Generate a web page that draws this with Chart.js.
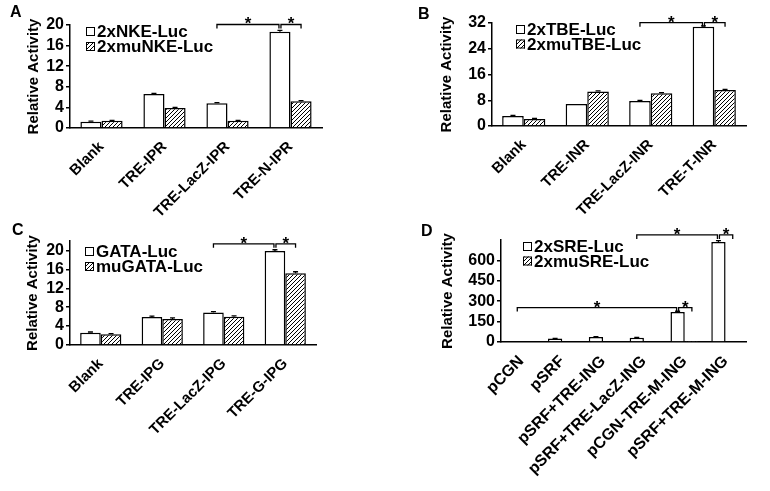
<!DOCTYPE html>
<html>
<head>
<meta charset="utf-8">
<script src="https://cdn.jsdelivr.net/npm/chart.js@4.4.1/dist/chart.umd.min.js"></script>
<style>
html, body { margin: 0; padding: 0; background: #fff; }
body { width: 770px; height: 491px; position: relative; overflow: hidden; }
canvas { position: absolute; }
</style>
</head>
<body>
<canvas id="panelA" width="385" height="220" style="left:0px;top:0px"></canvas>
<canvas id="panelB" width="385" height="220" style="left:385px;top:0px"></canvas>
<canvas id="panelC" width="385" height="271" style="left:0px;top:220px"></canvas>
<canvas id="panelD" width="385" height="271" style="left:385px;top:220px"></canvas>
<script>
Chart.defaults.color = '#000';
Chart.defaults.font.family = "'Liberation Sans', Arial, sans-serif";
Chart.defaults.font.weight = 'bold';

// panel A
const aLabels = ['Blank', 'TRE-IPR', 'TRE-LacZ-IPR', 'TRE-N-IPR'];
const aSeries = ['2xNKE-Luc', '2xmuNKE-Luc'];
const aWild = [1.2, 6.6, 4.8, 18.7];
const aMutant = [1.4, 3.9, 1.4, 5.2];
const aWildErr = [0.15, 0.12, 0.12, 0.25];
const aMutantErr = [0.08, 0.1, 0.06, 0.1];
const aTicks = [0, 4, 8, 12, 16, 20];

// panel B
const bLabels = ['Blank', 'TRE-INR', 'TRE-LacZ-INR', 'TRE-T-INR'];
const bSeries = ['2xTBE-Luc', '2xmuTBE-Luc'];
const bWild = [3.1, 6.8, 7.8, 30.8];
const bMutant = [2.2, 10.7, 10.2, 11.2];
const bWildErr = [0.2, 0, 0.15, 0.3];
const bMutantErr = [0.15, 0.2, 0.15, 0.15];
const bTicks = [0, 8, 16, 24, 32];

// panel C
const cLabels = ['Blank', 'TRE-IPG', 'TRE-LacZ-IPG', 'TRE-G-IPG'];
const cSeries = ['GATA-Luc', 'muGATA-Luc'];
const cWild = [2.6, 5.9, 6.9, 19.9];
const cMutant = [2.3, 5.5, 6.0, 15.2];
const cWildErr = [0.15, 0.2, 0.15, 0.25];
const cMutantErr = [0.1, 0.25, 0.15, 0.3];
const cTicks = [0, 4, 8, 12, 16, 20];

// panel D
const dLabels = ['pCGN', 'pSRF', 'pSRF+TRE-ING', 'pSRF+TRE-LacZ-ING', 'pCGN-TRE-M-ING', 'pSRF+TRE-M-ING'];
const dSeries = ['2xSRE-Luc', '2xmuSRE-Luc'];
const dWild = [0, 25, 37, 32, 220, 735];
const dMutant = [0, 0, 0, 0, 3, 4];
const dWildErr = [0, 2, 2, 2, 6, 10];
const dMutantErr = [0, 0, 0, 0, 0, 0];
const dTicks = [0, 150, 300, 450, 600];

function makeHatch() {
    const c = document.createElement('canvas');
    c.width = 4;
    c.height = 4;
    const g = c.getContext('2d');
    g.fillStyle = '#fff';
    g.fillRect(0, 0, 4, 4);
    g.strokeStyle = '#000';
    g.lineWidth = 1;
    g.beginPath();
    g.moveTo(0, 4); g.lineTo(4, 0);
    g.moveTo(-1, 1); g.lineTo(1, -1);
    g.moveTo(3, 5); g.lineTo(5, 3);
    g.stroke();
    return g.createPattern(c, 'repeat');
}
const hatch = makeHatch();

// error bars, significance brackets, legend and panel letter
const extrasPlugin = {
    id: 'extras',
    afterDatasetsDraw(chart, args, opts) {
        const ctx = chart.ctx;
        const yScale = chart.scales.y;
        ctx.save();
        ctx.strokeStyle = '#000';
        ctx.fillStyle = '#000';
        ctx.lineWidth = 1.3;

        opts.errors.forEach(function(errs, d) {
            const meta = chart.getDatasetMeta(d);
            const vals = chart.data.datasets[d].data;
            meta.data.forEach(function(bar, i) {
                if (!errs[i]) return;
                const top = yScale.getPixelForValue(vals[i] + errs[i]);
                ctx.beginPath();
                ctx.moveTo(bar.x, bar.y);
                ctx.lineTo(bar.x, top);
                ctx.moveTo(bar.x - 2.5, top);
                ctx.lineTo(bar.x + 2.5, top);
                ctx.stroke();
            });
        });

        ctx.font = "bold 17px 'Liberation Sans', Arial, sans-serif";
        ctx.textAlign = 'center';
        opts.brackets.forEach(function(b) {
            const x1 = chart.getDatasetMeta(b.from[1]).data[b.from[0]].x + (b.nudge ? b.nudge[0] : 0);
            const x2 = chart.getDatasetMeta(b.to[1]).data[b.to[0]].x + (b.nudge ? b.nudge[1] : 0);
            const y = yScale.getPixelForValue(b.level);
            ctx.beginPath();
            ctx.moveTo(x1, y + 4);
            ctx.lineTo(x1, y);
            ctx.lineTo(x2, y);
            ctx.lineTo(x2, y + 4);
            ctx.stroke();
            ctx.fillText('*', (x1 + x2) / 2, y + 5);
        });

        const lg = opts.legend;
        ctx.textAlign = 'left';
        ctx.textBaseline = 'alphabetic';
        ctx.font = "bold 17px 'Liberation Sans', Arial, sans-serif";
        chart.data.datasets.forEach(function(ds, i) {
            const cy = lg.y + i * lg.gap;
            ctx.fillStyle = ds.backgroundColor;
            ctx.fillRect(lg.x, cy - 4, 9, 9);
            ctx.lineWidth = 1;
            ctx.strokeRect(lg.x + 0.5, cy - 3.5, 8, 8);
            ctx.fillStyle = '#000';
            ctx.fillText(ds.label, lg.x + 11, cy + 6);
        });

        ctx.font = "bold 16px 'Liberation Sans', Arial, sans-serif";
        ctx.fillText(opts.letter.text, opts.letter.x, opts.letter.y);
        ctx.restore();
    }
};

function buildPanel(id, labels, series, wild, mutant, wildErr, mutantErr, ticks, yMax, box, extras) {
    return new Chart(document.getElementById(id), {
        type: 'bar',
        data: {
            labels: labels,
            datasets: [{
                label: series[0],
                data: wild,
                backgroundColor: '#fff',
                borderColor: '#000',
                borderWidth: 1.5,
                categoryPercentage: box.catPct,
                barPercentage: 1
            }, {
                label: series[1],
                data: mutant,
                backgroundColor: hatch,
                borderColor: '#000',
                borderWidth: 1.5,
                categoryPercentage: box.catPct,
                barPercentage: 1
            }]
        },
        options: {
            responsive: false,
            animation: false,
            layout: { padding: box.pad },
            plugins: {
                legend: { display: false },
                tooltip: { enabled: false },
                extras: {
                    errors: [wildErr, mutantErr],
                    brackets: extras.brackets,
                    legend: extras.legend,
                    letter: extras.letter
                }
            },
            scales: {
                x: {
                    grid: { display: false },
                    border: { display: true, color: '#000', width: 1.5 },
                    ticks: {
                        font: { size: box.xFont, weight: 'bold' },
                        minRotation: 45,
                        maxRotation: 45,
                        autoSkip: false,
                        padding: 2
                    },
                    afterFit: function(scale) { scale.height = box.xHeight; }
                },
                y: {
                    min: 0,
                    max: yMax,
                    afterBuildTicks: function(scale) {
                        scale.ticks = ticks.map(function(v) { return { value: v }; });
                    },
                    grid: {
                        drawOnChartArea: false,
                        drawTicks: true,
                        tickLength: 4,
                        color: '#000',
                        lineWidth: 1.5
                    },
                    border: { display: true, color: '#000', width: 1.5 },
                    ticks: { font: { size: 16, weight: 'bold' }, padding: 2, autoSkip: false },
                    title: {
                        display: true,
                        text: 'Relative Activity',
                        font: { size: 15, weight: 'bold' },
                        padding: { top: 4, bottom: 4 }
                    },
                    afterFit: function(scale) { scale.width = box.yWidth; }
                }
            }
        },
        plugins: [extrasPlugin]
    });
}

buildPanel('panelA', aLabels, aSeries, aWild, aMutant, aWildErr, aMutantErr, aTicks, 20,
    { pad: { left: 21, top: 25, right: 63, bottom: 0 }, yWidth: 49, xHeight: 92, catPct: 0.67, xFont: 15 },
    {
        brackets: [
            { from: [2, 0], to: [3, 0], level: 20.1, nudge: [0, -1] },
            { from: [3, 0], to: [3, 1], level: 20.1, nudge: [1, 0] }
        ],
        legend: { x: 86, y: 31, gap: 15 },
        letter: { text: 'A', x: 10, y: 17 }
    });

buildPanel('panelB', bLabels, bSeries, bWild, bMutant, bWildErr, bMutantErr, bTicks, 32,
    { pad: { left: 49, top: 23, right: 24, bottom: 0 }, yWidth: 58, xHeight: 94, catPct: 0.68, xFont: 15 },
    {
        brackets: [
            { from: [2, 0], to: [3, 0], level: 32.1, nudge: [0, -1] },
            { from: [3, 0], to: [3, 1], level: 32.1, nudge: [1, 0] }
        ],
        legend: { x: 131, y: 29, gap: 14.5 },
        letter: { text: 'B', x: 33, y: 19 }
    });

buildPanel('panelC', cLabels, cSeries, cWild, cMutant, cWildErr, cMutantErr, cTicks, 22,
    { pad: { left: 20, top: 21, right: 69, bottom: 0 }, yWidth: 50, xHeight: 146, catPct: 0.67, xFont: 15 },
    {
        brackets: [
            { from: [2, 0], to: [3, 0], level: 21.4, nudge: [0, -1] },
            { from: [3, 0], to: [3, 1], level: 21.4, nudge: [1, 0] }
        ],
        legend: { x: 85, y: 31, gap: 15 },
        letter: { text: 'C', x: 12, y: 15 }
    });

buildPanel('panelD', dLabels, dSeries, dWild, dMutant, dWildErr, dMutantErr, dTicks, 750,
    { pad: { left: 50, top: 20, right: 24, bottom: 0 }, yWidth: 66, xHeight: 149, catPct: 0.7, xFont: 16 },
    {
        brackets: [
            { from: [3, 0], to: [5, 0], level: 787, nudge: [0, -1] },
            { from: [5, 0], to: [5, 1], level: 787, nudge: [1, 0] },
            { from: [0, 0], to: [4, 0], level: 253, nudge: [3, -1] },
            { from: [4, 0], to: [4, 1], level: 253, nudge: [1, 0] }
        ],
        legend: { x: 138, y: 26, gap: 14.5 },
        letter: { text: 'D', x: 36, y: 16 }
    });
</script>
</body>
</html>
